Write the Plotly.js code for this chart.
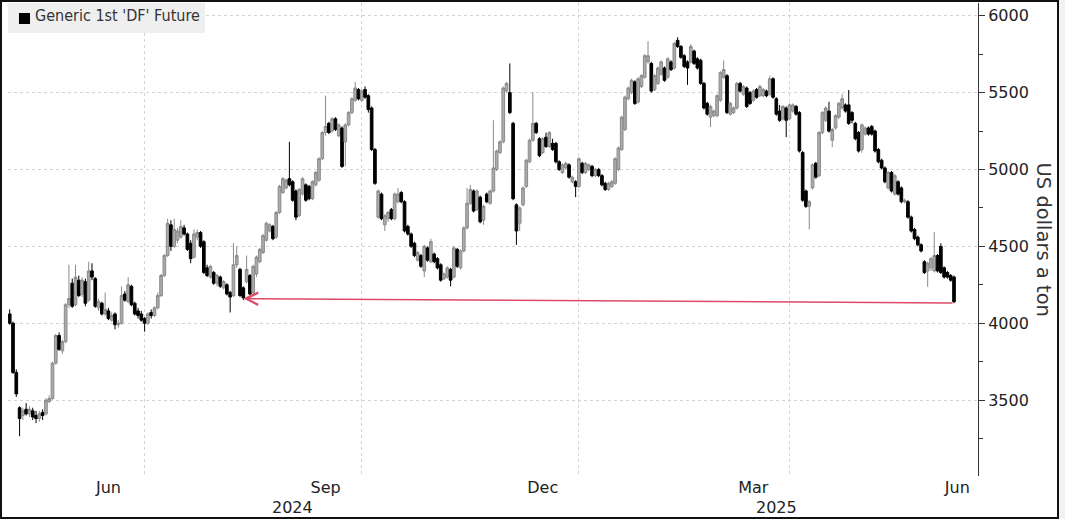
<!DOCTYPE html>
<html><head><meta charset="utf-8">
<script src="https://cdn.plot.ly/plotly-3.0.1.min.js"></script>
<style>
html,body{margin:0;padding:0;background:#f2f2f2;}
#frame{position:absolute;left:0;top:0;width:1055px;height:515px;border:2px solid #111;background:#fff;}
#chart{width:1055px;height:515px;}
</style></head><body>
<div id="frame"><div id="chart"></div></div>
<script>
// Generic 1st 'DF' Future (Robusta coffee), daily, US dollars a ton
const firstDay = '2024-05-03';
const openP = [
4060,4000,3680,3450,3400,3440,3410,3430,3400,3380,
3420,3410,3490,3510,3740,3920,3820,3880,4120,4260,
4120,4280,4190,4270,4150,4340,4290,4100,4130,4060,
4080,4020,4060,3990,4000,4190,4140,4240,4130,4080,
4060,4030,4000,4070,4050,4100,4180,4310,4440,4640,
4500,4540,4560,4620,4580,4520,4430,4560,4590,4530,
4360,4300,4330,4260,4300,4230,4250,4200,4180,4380,
4350,4230,4270,4310,4200,4320,4400,4460,4540,4600,
4630,4560,4720,4850,4880,4940,4920,4860,4700,4840,
4900,4890,4810,4900,4930,5070,5240,5300,5250,5330,
5220,5270,5180,5290,5370,5450,5520,5450,5520,5480,
5400,5130,4690,4840,4640,4680,4740,4680,4790,4850,
4790,4630,4580,4520,4410,4440,4340,4490,4400,4450,
4420,4380,4290,4300,4350,4300,4480,4360,4470,4620,
4780,4860,4740,4820,4670,4840,4780,4860,5000,5110,
5180,5510,5500,5300,4770,4650,4770,4890,5050,5190,
5300,5200,5110,5210,5150,5170,5170,5050,4980,5010,
5030,4920,4920,4890,5040,4980,5000,5020,4960,5000,
4960,4910,4870,4890,4910,5000,5130,5260,5460,5500,
5570,5440,5540,5600,5700,5690,5520,5560,5620,5660,
5600,5700,5660,5840,5800,5740,5700,5700,5770,5720,
5710,5560,5430,5340,5350,5350,5450,5600,5610,5360,
5370,5400,5560,5490,5530,5500,5450,5520,5480,5480,
5510,5490,5590,5460,5380,5330,5400,5330,5380,5410,
5370,5110,4860,4760,4880,5040,4960,5240,5320,5380,
5190,5270,5340,5400,5420,5420,5370,5300,5240,5130,
5230,5270,5280,5250,5130,5060,5010,4880,4980,4840,
4920,4880,4790,4790,4690,4610,4560,4510,4400,4340,
4360,4340,4440,4500,4360,4330,4310,4300];
const highP = [
4090,4010,3700,3460,3450,3480,3460,3450,3430,3430,
3440,3510,3530,3750,3930,3940,3890,4130,4380,4290,
4380,4310,4300,4290,4400,4390,4300,4160,4140,4200,
4100,4070,4070,4020,4240,4210,4300,4250,4140,4100,
4080,4040,4070,4090,4110,4200,4320,4450,4680,4670,
4680,4620,4670,4640,4590,4540,4610,4610,4600,4540,
4380,4380,4340,4320,4310,4280,4260,4210,4520,4500,
4360,4240,4440,4320,4380,4440,4490,4580,4660,4650,
4640,4730,4900,4950,4940,5180,4930,4870,4880,4950,
4910,4900,4930,4990,5080,5250,5480,5310,5340,5340,
5300,5280,5300,5380,5470,5570,5530,5520,5540,5490,
5410,5140,4870,4850,4710,4730,4750,4850,4880,4860,
4800,4640,4590,4530,4470,4450,4510,4500,4550,4460,
4430,4390,4330,4370,4360,4500,4490,4480,4630,4880,
4900,4870,4870,4830,4770,4850,4870,5320,5130,5190,
5540,5570,5690,5310,4780,4760,4890,5070,5200,5505,
5310,5210,5210,5240,5250,5200,5180,5060,5040,5050,
5040,4960,4930,5080,5050,5050,5040,5030,5010,5010,
4970,4920,4920,4930,5080,5150,5350,5480,5540,5590,
5580,5600,5620,5750,5835,5700,5620,5670,5710,5670,
5730,5710,5830,5860,5810,5750,5710,5815,5780,5730,
5720,5570,5440,5420,5390,5490,5640,5710,5620,5440,
5410,5570,5570,5550,5540,5510,5520,5530,5550,5530,
5520,5610,5600,5470,5420,5420,5410,5430,5430,5420,
5380,5120,4870,4800,5040,5050,5250,5380,5410,5440,
5270,5360,5440,5490,5430,5517,5380,5310,5250,5300,
5280,5280,5290,5260,5140,5070,5020,4990,4990,4970,
4930,4890,4810,4800,4700,4620,4570,4520,4410,4400,
4430,4594,4450,4520,4370,4340,4320,4310];
const lowP = [
3990,3670,3520,3265,3370,3400,3390,3370,3350,3360,
3370,3400,3480,3500,3730,3820,3800,3870,4100,4100,
4110,4170,4170,4110,4140,4280,4100,4080,4050,4050,
4020,4010,3960,3970,3990,4140,4130,4110,4050,4030,
4010,3945,3990,4030,4040,4090,4170,4300,4430,4470,
4490,4520,4550,4570,4470,4390,4420,4540,4490,4320,
4300,4290,4250,4240,4230,4220,4180,4070,4170,4360,
4170,4150,4260,4180,4190,4300,4390,4450,4530,4590,
4540,4550,4710,4840,4870,4890,4790,4670,4690,4830,
4790,4800,4800,4890,4920,5060,5220,5230,5240,5250,
5210,5010,5020,5280,5360,5440,5450,5440,5460,5370,
5120,4900,4680,4670,4600,4660,4670,4670,4780,4780,
4590,4570,4490,4430,4400,4360,4300,4400,4390,4390,
4350,4270,4280,4290,4240,4290,4360,4350,4460,4610,
4770,4720,4730,4650,4640,4780,4770,4850,4990,5100,
5170,5500,5360,4800,4510,4600,4760,4880,5040,5180,
5230,5080,5100,5140,5140,5120,5040,4990,4970,5000,
4940,4910,4820,4880,4970,4970,4990,4950,4950,4950,
4890,4860,4860,4880,4900,4990,5120,5250,5450,5490,
5420,5430,5530,5590,5690,5500,5510,5550,5610,5570,
5590,5640,5650,5790,5720,5660,5550,5690,5680,5650,
5550,5390,5350,5276,5340,5340,5440,5590,5360,5350,
5360,5390,5500,5480,5400,5420,5440,5460,5470,5470,
5470,5480,5460,5350,5310,5320,5210,5320,5370,5350,
5110,4790,4750,4610,4870,4940,4950,5230,5310,5240,
5146,5260,5330,5390,5370,5290,5300,5190,5110,5110,
5220,5220,5220,5110,5040,5000,4910,4870,4850,4830,
4830,4780,4780,4680,4590,4540,4500,4460,4320,4236,
4340,4330,4330,4320,4290,4290,4270,4130];
const closeP = [
4000,3680,3540,3380,3430,3410,3440,3390,3380,3410,
3400,3500,3510,3740,3920,3830,3880,4120,4160,4110,
4300,4180,4280,4130,4340,4300,4110,4140,4060,4090,
4030,4050,3990,4000,4180,4150,4250,4120,4060,4050,
4020,4000,4060,4050,4100,4180,4310,4440,4650,4500,
4610,4600,4630,4580,4480,4420,4580,4590,4500,4330,
4310,4370,4260,4310,4240,4270,4190,4170,4380,4440,
4180,4165,4350,4190,4370,4430,4480,4570,4650,4640,
4550,4720,4890,4940,4930,4900,4800,4690,4870,4940,
4800,4810,4920,4980,5070,5240,5280,5240,5330,5260,
5290,5020,5290,5370,5460,5530,5460,5510,5470,5390,
5130,4910,4860,4680,4700,4720,4680,4840,4840,4790,
4600,4580,4500,4440,4460,4370,4500,4410,4530,4400,
4360,4280,4320,4360,4280,4490,4370,4470,4620,4780,
4870,4730,4860,4660,4760,4790,4860,5010,5120,5180,
5530,5560,5370,4810,4600,4750,4880,5060,5190,5300,
5240,5090,5200,5150,5240,5130,5050,5000,5030,5040,
4950,4950,4890,5070,4980,5040,5030,4960,5000,4960,
4900,4870,4910,4920,5070,5140,5340,5470,5530,5580,
5430,5590,5610,5740,5740,5510,5610,5660,5700,5580,
5720,5650,5820,5800,5730,5670,5660,5800,5690,5660,
5560,5400,5360,5410,5380,5480,5630,5650,5370,5430,
5400,5560,5510,5540,5410,5430,5510,5470,5540,5520,
5480,5590,5470,5360,5320,5410,5320,5420,5420,5360,
5120,4800,4760,4790,5030,4950,5240,5370,5400,5250,
5260,5350,5430,5460,5380,5300,5320,5200,5120,5290,
5270,5230,5230,5120,5050,5010,4920,4980,4860,4960,
4840,4790,4800,4690,4600,4550,4510,4470,4330,4390,
4420,4440,4340,4330,4300,4300,4280,4140];

const monthTickDates = ['2024-06-14 12:00','2024-09-16 12:00','2024-12-17 12:00','2025-03-17 12:00','2025-06-11 12:00'];
const monthTickText = ['Jun','Sep','Dec','Mar','Jun'];
const quarterGridDates = ['2024-07-01 12:00','2024-10-01 12:00','2025-01-01 12:00','2025-04-01 12:00'];
const yearLabels = ['2024','2025'];
const yearLabelDates = ['2024-09-02 12:00','2025-03-26 12:00'];
const yTicks = [3500,4000,4500,5000,5500,6000];
const yMinorTicks = [3250,3750,4250,4750,5250,5750];
const arrowFrom = {date:'2025-06-10 12:00', value:4132};
const arrowTo = {date:'2024-08-12 12:00', value:4160};

function weekdays(start, n){
  const out = [];
  let t = Date.parse(start + 'T12:00:00Z');
  while(out.length < n){
    const d = new Date(t);
    const w = d.getUTCDay();
    if(w !== 0 && w !== 6) out.push(d.toISOString().slice(0,10) + ' 12:00');
    t += 86400000;
  }
  return out;
}
const dates = weekdays(firstDay, closeP.length);

const FONT = 'DejaVu Sans';
const trace = {
  type:'candlestick', x:dates, open:openP, high:highP, low:lowP, close:closeP,
  increasing:{line:{color:'#8a8a8a', width:1}, fillcolor:'#ababab'},
  decreasing:{line:{color:'#000000', width:1}, fillcolor:'#000000'},
  whiskerwidth:0, hoverinfo:'skip', showlegend:false
};

const annotations = [
  {xref:'paper', yref:'paper', x:0.0258, y:0.9736, xanchor:'left', yanchor:'middle', showarrow:false,
   text:"Generic 1st 'DF' Future", font:{family:'DejaVu Sans Condensed', size:16, color:'#333'}},
  {xref:'paper', yref:'paper', x:1.068, y:0.5, xanchor:'center', yanchor:'middle', showarrow:false,
   textangle:90, text:'US dollars a ton', font:{family:FONT, size:19.5, color:'#333'}},
  {xref:'x', yref:'y', axref:'x', ayref:'y', x:arrowTo.date, y:arrowTo.value, ax:arrowFrom.date, ay:arrowFrom.value,
   text:'', showarrow:true, arrowhead:5, arrowsize:1.6, arrowwidth:1.5, arrowcolor:'#dc4a66'}
];
yearLabels.forEach((t,i)=>annotations.push({xref:'x', yref:'paper', x:yearLabelDates[i], y:-0.066,
  xanchor:'center', yanchor:'middle', showarrow:false, text:t, font:{family:FONT, size:16, color:'#222'}}));

const layout = {
  width:1055, height:515, margin:{l:6, r:79, t:1, b:41},
  paper_bgcolor:'#ffffff', plot_bgcolor:'#ffffff',
  showlegend:false, hovermode:false, boxgap:0.1, boxgroupgap:0.1,
  font:{family:FONT, size:16, color:'#222'},
  xaxis:{type:'date', range:['2024-05-02 23:30','2025-06-19 19:00'], rangebreaks:[{bounds:['sat','mon']}],
    tickmode:'array', tickvals:monthTickDates, ticktext:monthTickText, ticks:'', showgrid:false,
    zeroline:false, showline:false, tickfont:{family:FONT, size:16, color:'#222'},
    minor:{tickmode:'array', tickvals:quarterGridDates, showgrid:true, gridcolor:'#d4d4d4', griddash:'dot', gridwidth:1, ticks:''},
    rangeslider:{visible:false}, fixedrange:true},
  yaxis:{side:'right', range:[3006,6083], tickmode:'array', tickvals:yTicks, ticks:'outside', ticklen:6,
    tickcolor:'#333', tickwidth:1, showline:true, linecolor:'#333', linewidth:1, showgrid:true,
    gridcolor:'#d4d4d4', griddash:'dot', gridwidth:1, zeroline:false,
    tickfont:{family:FONT, size:16, color:'#222'},
    minor:{tickmode:'array', tickvals:yMinorTicks, ticks:'outside', ticklen:4, tickcolor:'#333', showgrid:false},
    fixedrange:true},
  shapes:[
    {type:'rect', xref:'paper', yref:'paper', x0:0, x1:0.2031, y0:0.9366, y1:1, fillcolor:'#efefef', line:{width:0}, layer:'above'},
    {type:'rect', xref:'paper', yref:'paper', x0:0.0113, x1:0.0227, y0:0.9556, y1:0.9789, fillcolor:'#000000', line:{width:0}, layer:'above'}
  ],
  annotations:annotations
};
Plotly.newPlot('chart', [trace], layout, {staticPlot:true, displayModeBar:false});
</script>
</body></html>
